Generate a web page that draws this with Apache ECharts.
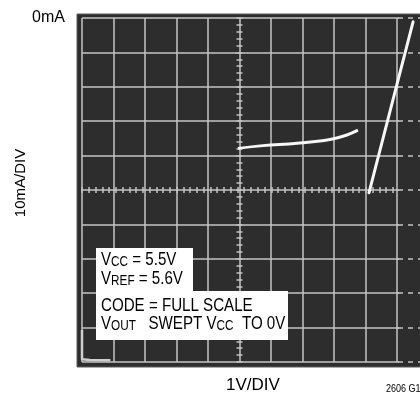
<!DOCTYPE html>
<html>
<head>
<meta charset="utf-8">
<script src="https://cdn.jsdelivr.net/npm/echarts@6/dist/echarts.min.js"></script>
<style>
html,body{margin:0;padding:0;background:#fff;}
#c{width:420px;height:396px;}
</style>
</head>
<body>
<div id="c"></div>
<script>
// Oscilloscope trace, x in volts (1V/DIV), y in mA (10mA/DIV, 0mA at top)
const curveVolts = [4.95, 5.75, 6.83, 7.87, 8.41, 8.76];
const curveMA    = [37.9, 37.1, 36.4, 35.3, 34.0, 32.6];
const rampVolts  = [9.11, 10.51];
const rampMA     = [50.8, 1.1];
const lowVolts   = [0.0, 0.0, 0.25, 0.9];
const lowMA      = [90.7, 99.2, 99.4, 99.5];
const yTickLabels = {0: '0mA'};
const xName = '1V/DIV';
const yName = '10mA/DIV';

const FONT = '"Liberation Sans", Arial, Helvetica, sans-serif';
const GRIDC = '#c4c4c4';
const zip = (a, b) => a.map((v, i) => [v, b[i]]);

const chart = echarts.init(document.getElementById('c'), null, {renderer: 'canvas'});

const centerTickX = inside => ({
  gridIndex: 0, type: 'value', min: 0, max: 10, interval: 1,
  position: 'bottom', offset: -172,
  axisLine: {show: false},
  axisTick: {show: true, inside: inside, length: 3, lineStyle: {color: GRIDC, width: 1.5}},
  minorTick: {show: true, splitNumber: 5, length: 3, lineStyle: {color: GRIDC, width: 1.5}},
  axisLabel: {show: false}, splitLine: {show: false}
});
const centerTickY = inside => ({
  gridIndex: 0, type: 'value', min: 0, max: 100, interval: 10, inverse: true,
  position: 'left', offset: -157.5,
  axisLine: {show: false},
  axisTick: {show: true, inside: inside, length: 3, lineStyle: {color: GRIDC, width: 1.5}},
  minorTick: {show: true, splitNumber: 5, length: 3, lineStyle: {color: GRIDC, width: 1.5}},
  axisLabel: {show: false}, splitLine: {show: false}
});

const lineLabel = (y, text) => ({
  type: 'text', x: 101, y: y, z: 11, zlevel: 0, scaleX: 0.84,
  style: {text: text, fill: '#000', font: '18px ' + FONT,
    rich: {
      n: {fontSize: 18, fontFamily: FONT, fill: '#000', lineHeight: 18, verticalAlign: 'bottom'},
      s: {fontSize: 14, fontFamily: FONT, fill: '#000', lineHeight: 14, verticalAlign: 'bottom', padding: [10, 0, 0, 0]}
    }}
});

chart.setOption({
  animation: false,
  backgroundColor: '#fff',
  grid: [
    {left: 82, top: 18, width: 338, height: 344, outerBoundsMode: 'none', containLabel: false},
    {left: 398, top: 18, width: 22, height: 344, outerBoundsMode: 'none', containLabel: false, z: 3}
  ],
  xAxis: [
    {
      gridIndex: 0, type: 'value', min: 0, max: 10.73, interval: 1,
      name: xName, nameLocation: 'middle', nameGap: 15, nameMoveOverlap: false,
      nameTextStyle: {fontFamily: FONT, fontSize: 17, color: '#000', padding: [0, 0, 0, 4]},
      axisLine: {show: false}, axisTick: {show: false}, axisLabel: {show: false},
      splitLine: {show: true, showMaxLine: false, lineStyle: {color: GRIDC, width: 1.5}}
    },
    centerTickX(true),
    centerTickX(false),
    {
      gridIndex: 1, type: 'value', min: 0, max: 1,
      axisLine: {show: false}, axisTick: {show: false}, axisLabel: {show: false}, splitLine: {show: false}
    }
  ],
  yAxis: [
    {
      gridIndex: 0, type: 'value', min: 0, max: 100, interval: 10, inverse: true,
      name: yName, nameLocation: 'middle', nameGap: 54, nameRotate: 90, nameMoveOverlap: false,
      nameTextStyle: {fontFamily: FONT, fontSize: 15, color: '#000', padding: [0, 0, 0, 14]},
      axisLine: {show: false}, axisTick: {show: false},
      axisLabel: {show: true, margin: 17, fontFamily: FONT, fontSize: 16, color: '#000',
        formatter: v => yTickLabels[v] !== undefined ? yTickLabels[v] : ''},
      splitLine: {show: true, lineStyle: {color: GRIDC, width: 1.5}}
    },
    centerTickY(true),
    centerTickY(false),
    {
      gridIndex: 1, type: 'value', min: 0, max: 100, interval: 10, inverse: true, z: 4,
      axisLine: {show: false}, axisTick: {show: false}, axisLabel: {show: false},
      splitLine: {show: true, lineStyle: {color: GRIDC, width: 1.5, type: [5, 5]}}
    }
  ],
  series: [
    {
      type: 'line', xAxisIndex: 0, yAxisIndex: 0, data: zip(curveVolts, curveMA),
      smooth: 0.4, showSymbol: false,
      lineStyle: {color: '#f7f7f7', width: 3}, z: 5
    },
    {
      type: 'line', xAxisIndex: 0, yAxisIndex: 0, data: zip(rampVolts, rampMA),
      showSymbol: false,
      lineStyle: {color: '#f7f7f7', width: 3, cap: 'round'}, z: 5
    },
    {
      type: 'line', xAxisIndex: 0, yAxisIndex: 0, data: zip(lowVolts, lowMA),
      showSymbol: false, clip: false,
      lineStyle: {color: '#cfcfcf', width: 2.5}, z: 4
    }
  ],
  graphic: [
    {type: 'rect', z: -1, shape: {x: 77, y: 14, width: 343, height: 353},
      style: {fill: '#2d2d2d', stroke: '#5a5a5a', lineWidth: 1}},
    {type: 'rect', z: 1, shape: {x: 399, y: 15, width: 21, height: 351},
      style: {fill: '#2d2d2d'}},
    {type: 'rect', z: 10, shape: {x: 96, y: 248, width: 97, height: 45}, style: {fill: '#fff'}},
    {type: 'rect', z: 10, shape: {x: 96, y: 291, width: 192, height: 49}, style: {fill: '#fff'}},
    lineLabel(251, '{n|V}{s|CC}{n| = 5.5V}'),
    lineLabel(270, '{n|V}{s|REF}{n| = 5.6V}'),
    lineLabel(297, '{n|CODE = FULL SCALE}'),
    lineLabel(315, '{n|V}{s|OUT}{n|   SWEPT V}{s|CC}{n|  TO 0V}'),
    {type: 'text', x: 386, y: 384, z: 11, scaleX: 0.9,
      style: {text: '2606 G10', fill: '#000', font: '10px ' + FONT}}
  ]
});
</script>
</body>
</html>
